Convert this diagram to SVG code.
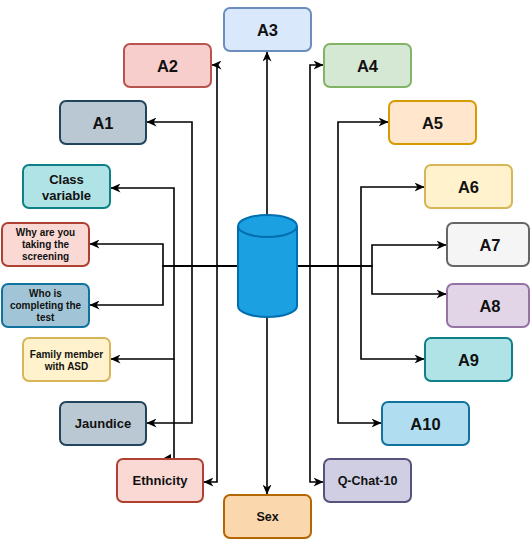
<svg xmlns="http://www.w3.org/2000/svg" width="530" height="542" viewBox="0 0 530 542">
<style>
.n rect{stroke-width:2}
.t{font-family:"Liberation Sans",Arial,sans-serif;font-weight:bold;fill:#111;text-anchor:middle}
.big{font-size:16.5px}
.mid{font-size:13px}
.sm{font-size:10px}
.e{fill:none;stroke:#000;stroke-width:1.6;marker-end:url(#arr)}
.l{fill:none;stroke:#000;stroke-width:1.6}
</style>
<defs>
<marker id="arr" markerUnits="userSpaceOnUse" viewBox="0 0 10 9" refX="9.5" refY="4.5" markerWidth="10" markerHeight="9" orient="auto">
<path d="M0,0 L10,4.5 L0,9 L3,4.5 z" fill="#000"/>
</marker>
</defs>
<g id="connectors">
<path class="e" d="M238,266 H217 V65 H212"/>
<path class="e" d="M238,266 H217 V482 H204"/>
<path class="e" d="M238,266 H192 V122 H147"/>
<path class="e" d="M238,266 H192 V423 H147"/>
<path class="e" d="M238,266 H174 V188 H111"/>
<path class="e" d="M238,266 H174 V359 H111"/>
<path class="l" d="M174,359 V459"/>
<path d="M163,458.5 L171,454 L171,458.5 z" fill="#000"/>
<path class="e" d="M238,266 H163 V244 H90"/>
<path class="e" d="M238,266 H163 V305 H90"/>
<path class="e" d="M297,266 H310 V65 H323"/>
<path class="e" d="M297,266 H310 V482 H323"/>
<path class="e" d="M297,266 H338 V122 H388"/>
<path class="e" d="M297,266 H338 V423 H381"/>
<path class="e" d="M297,266 H361 V187 H424"/>
<path class="e" d="M297,266 H361 V359 H424"/>
<path class="e" d="M297,266 H372 V245 H446"/>
<path class="e" d="M297,266 H372 V294 H446"/>
<path class="e" d="M267,215 V52"/>
<path class="e" d="M267,317 V494"/>
</g>
<g id="db">
<path d="M238,226 A29.5,11 0 0 1 297,226 V306 A29.5,11 0 0 1 238,306 Z" fill="#1ba1e2" stroke="#006eaf" stroke-width="2"/>
<path d="M238,226 A29.5,11 0 0 0 297,226" fill="none" stroke="#006eaf" stroke-width="2"/>
</g>
<g id="A3" class="n"><rect x="224" y="8" width="87" height="43" rx="6" fill="#dae8fc" stroke="#6c8ebf"/><text class="t big" x="267.5" y="35.5">A3</text></g>
<g id="A2" class="n"><rect x="124" y="44" width="87" height="43" rx="6" fill="#f8cecc" stroke="#b85450"/><text class="t big" x="167.5" y="71.5">A2</text></g>
<g id="A1" class="n"><rect x="60" y="101" width="86" height="43" rx="6" fill="#bac8d3" stroke="#23445d"/><text class="t big" x="103" y="128.5">A1</text></g>
<g id="A4" class="n"><rect x="324" y="44" width="87" height="43" rx="6" fill="#d5e8d4" stroke="#82b366"/><text class="t big" x="367.5" y="71.5">A4</text></g>
<g id="A5" class="n"><rect x="389" y="101" width="87" height="43" rx="6" fill="#ffe6cc" stroke="#d79b00"/><text class="t big" x="432.5" y="128.5">A5</text></g>
<g id="A6" class="n"><rect x="425" y="165" width="87" height="43" rx="6" fill="#fff2cc" stroke="#d6b656"/><text class="t big" x="468.5" y="192.5">A6</text></g>
<g id="A7" class="n"><rect x="447" y="223" width="82" height="43" rx="6" fill="#f5f5f5" stroke="#666666"/><text class="t big" x="490" y="250.5">A7</text></g>
<g id="A8" class="n"><rect x="447" y="284" width="82" height="43" rx="6" fill="#e1d5e7" stroke="#9673a6"/><text class="t big" x="490" y="311.5">A8</text></g>
<g id="A9" class="n"><rect x="425" y="338" width="87" height="43" rx="6" fill="#b0e3e6" stroke="#0e8088"/><text class="t big" x="468.5" y="365.5">A9</text></g>
<g id="A10" class="n"><rect x="382" y="402" width="87" height="43" rx="6" fill="#b1ddf0" stroke="#10739e"/><text class="t big" x="425.5" y="429.5">A10</text></g>
<g id="QChat10" class="n"><rect x="324" y="459" width="87" height="43" rx="6" fill="#d0cee2" stroke="#56517e"/><text class="t" style="font-size:12.5px" x="367.5" y="485">Q-Chat-10</text></g>
<g id="Sex" class="n"><rect x="224" y="495" width="87" height="43" rx="6" fill="#fad7ac" stroke="#b46504"/><text class="t" style="font-size:12.5px" x="267.5" y="521">Sex</text></g>
<g id="Ethnicity" class="n"><rect x="117" y="459" width="86" height="43" rx="6" fill="#fad9d5" stroke="#ae4132"/><text class="t mid" x="160" y="485">Ethnicity</text></g>
<g id="Jaundice" class="n"><rect x="60" y="402" width="86" height="43" rx="6" fill="#bac8d3" stroke="#23445d"/><text class="t mid" x="103" y="428">Jaundice</text></g>
<g id="Family" class="n"><rect x="23" y="338" width="87" height="43" rx="6" fill="#fff2cc" stroke="#d6b656"/><text class="t sm" x="66.5" y="357.5">Family member</text><text class="t sm" x="66.5" y="369.5">with ASD</text></g>
<g id="Who" class="n"><rect x="2" y="284" width="87" height="43" rx="6" fill="#a1c5d6" stroke="#10739e"/><text class="t sm" x="45.5" y="297">Who is</text><text class="t sm" x="45.5" y="309">completing the</text><text class="t sm" x="45.5" y="321">test</text></g>
<g id="Why" class="n"><rect x="2" y="223" width="87" height="43" rx="6" fill="#fad9d5" stroke="#ae4132"/><text class="t sm" x="45.5" y="236">Why are you</text><text class="t sm" x="45.5" y="248">taking the</text><text class="t sm" x="45.5" y="260">screening</text></g>
<g id="Class" class="n"><rect x="23" y="165" width="87" height="43" rx="6" fill="#b0e3e6" stroke="#0e8088"/><text class="t mid" x="66.5" y="184">Class</text><text class="t mid" x="66.5" y="199.5">variable</text></g>
</svg>
